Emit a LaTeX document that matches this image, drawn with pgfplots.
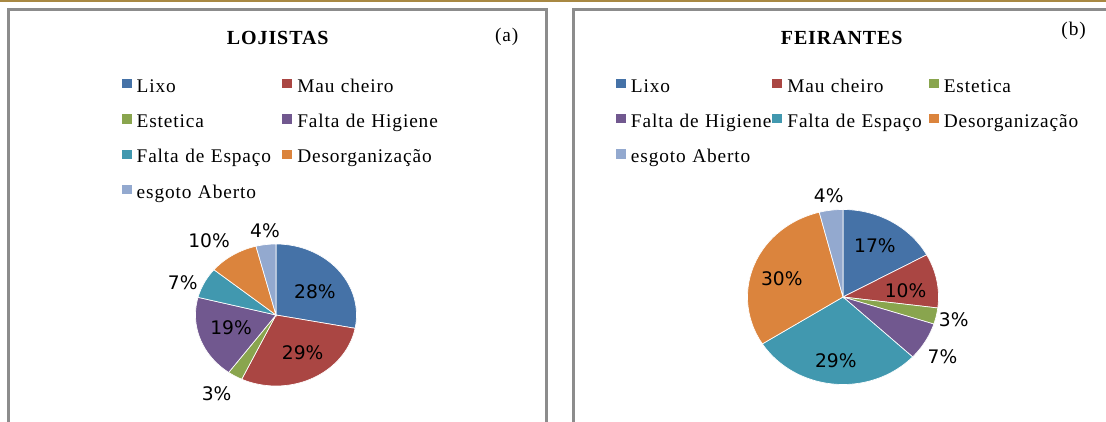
\documentclass[border=0pt]{standalone}
\usepackage{fontspec}
\setmainfont{Liberation Serif}[LetterSpace=4.5]
\newfontfamily\dejavu{DejaVu Sans}
\usepackage{pgfplots}
\pgfplotsset{compat=1.18}
\definecolor{c1}{HTML}{4572A7}
\definecolor{c2}{HTML}{AA4643}
\definecolor{c3}{HTML}{89A54E}
\definecolor{c4}{HTML}{71588F}
\definecolor{c5}{HTML}{4198AF}
\definecolor{c6}{HTML}{DB843D}
\definecolor{c7}{HTML}{93A9CF}
\definecolor{boxgray}{HTML}{8C8C8C}
\definecolor{gold}{HTML}{A88843}
% slice from cumulative percent #1 to #2 (clockwise from 12 o'clock)
\pgfplotsset{
  slice/.style 2 args={domain={90-3.6*(#2)}:{90-3.6*(#1)}, samples=60, draw=white, line width=0.5pt},
  pieaxis/.style 2 args={scale only axis, xmin=-1, xmax=1, ymin=-1, ymax=1, hide axis, clip=false,
    legend columns=#1,
    legend cell align=left,
    legend image code/.code={\fill[##1, draw=none] (0pt,0pt) rectangle (7.5pt,7pt);},
    legend style={draw=none, fill=none, inner sep=0pt, column sep=0pt, row sep=12.5pt, anchor=north west,
      font=\fontsize{14.5}{17}\selectfont,
      nodes={inner xsep=3.75pt, inner ysep=0pt, text width=#2, align=left, text height=10pt, text depth=4pt}}
  }
}
\tikzset{plab/.style={font=\dejavu\fontsize{14}{16}\selectfont, inner sep=0pt}}
\begin{document}
\begin{tikzpicture}
\path[use as bounding box] (0,0) rectangle (829.5pt,315.75pt);
\clip (0,0) rectangle (829.5pt,315.75pt);
% top rule and frames
\fill[gold] (0,314.25pt) rectangle (829.5pt,316pt);
\draw[boxgray, line width=2.25pt] (6pt,-5pt) -- (6pt,308.25pt) -- (409.9pt,308.25pt) -- (409.9pt,-5pt);
\draw[boxgray, line width=2.25pt] (429.75pt,-5pt) -- (429.75pt,308.25pt) -- (840pt,308.25pt);
% titles
\node[font=\fontsize{15}{18}\selectfont\bfseries] at (208.3pt,287.25pt) {LOJISTAS};
\node[font=\fontsize{14.5}{17}\selectfont] at (379.95pt,288pt) {(a)};
\node[font=\fontsize{15}{18}\selectfont\bfseries] at (631.3pt,287.25pt) {FEIRANTES};
\node[font=\fontsize{14.5}{17}\selectfont] at (805.2pt,292.5pt) {(b)};

% (a) LOJISTAS: 28, 29, 3, 19, 7, 10, 4 (%)
\begin{axis}[pieaxis={2}{105.45pt}, at={(207pt,79.5pt)}, anchor=center, width=120.75pt, height=106.5pt,
  legend style={at={(-0.4602,2.164)}}]
\addplot[fill=c1, slice={0}{28}] ({cos(x)},{sin(x)}) -- (axis cs:0,0) -- cycle;
\addlegendentry{\mbox{Lixo}}
\addplot[fill=c2, slice={28}{57}] ({cos(x)},{sin(x)}) -- (axis cs:0,0) -- cycle;
\addlegendentry{\mbox{Mau cheiro}}
\addplot[fill=c3, slice={57}{60}] ({cos(x)},{sin(x)}) -- (axis cs:0,0) -- cycle;
\addlegendentry{\mbox{Estetica}}
\addplot[fill=c4, slice={60}{79}] ({cos(x)},{sin(x)}) -- (axis cs:0,0) -- cycle;
\addlegendentry{\mbox{Falta de Higiene}}
\addplot[fill=c5, slice={79}{86}] ({cos(x)},{sin(x)}) -- (axis cs:0,0) -- cycle;
\addlegendentry{\mbox{Falta de Espaço}}
\addplot[fill=c6, slice={86}{96}] ({cos(x)},{sin(x)}) -- (axis cs:0,0) -- cycle;
\addlegendentry{\mbox{Desorganização}}
\addplot[fill=c7, slice={96}{100}] ({cos(x)},{sin(x)}) -- (axis cs:0,0) -- cycle;
\addlegendentry{\mbox{esgoto Aberto}}
\node[plab] at (axis cs:0.484,0.324) {28\%};
\node[plab] at (axis cs:0.332,-0.531) {29\%};
\node[plab] at (axis cs:-0.737,-1.103) {3\%};
\node[plab] at (axis cs:-0.559,-0.179) {19\%};
\node[plab] at (axis cs:-1.159,0.455) {7\%};
\node[plab] at (axis cs:-0.832,1.046) {10\%};
\node[plab] at (axis cs:-0.137,1.187) {4\%};
\end{axis}

% (b) FEIRANTES: 17, 10, 3, 7, 29, 30, 4 (%)
\begin{axis}[pieaxis={3}{102.3pt}, at={(632.25pt,93pt)}, anchor=center, width=143.25pt, height=131.25pt,
  legend style={at={(-0.690,1.749)}}]
\addplot[fill=c1, slice={0}{17}] ({cos(x)},{sin(x)}) -- (axis cs:0,0) -- cycle;
\addlegendentry{\mbox{Lixo}}
\addplot[fill=c2, slice={17}{27}] ({cos(x)},{sin(x)}) -- (axis cs:0,0) -- cycle;
\addlegendentry{\mbox{Mau cheiro}}
\addplot[fill=c3, slice={27}{30}] ({cos(x)},{sin(x)}) -- (axis cs:0,0) -- cycle;
\addlegendentry{\mbox{Estetica}}
\addplot[fill=c4, slice={30}{37}] ({cos(x)},{sin(x)}) -- (axis cs:0,0) -- cycle;
\addlegendentry{\mbox{Falta de Higiene}}
\addplot[fill=c5, slice={37}{66}] ({cos(x)},{sin(x)}) -- (axis cs:0,0) -- cycle;
\addlegendentry{\mbox{Falta de Espaço}}
\addplot[fill=c6, slice={66}{96}] ({cos(x)},{sin(x)}) -- (axis cs:0,0) -- cycle;
\addlegendentry{\mbox{Desorganização}}
\addplot[fill=c7, slice={96}{100}] ({cos(x)},{sin(x)}) -- (axis cs:0,0) -- cycle;
\addlegendentry{\mbox{esgoto Aberto}}
\node[plab] at (axis cs:-0.149,1.155) {4\%};
\node[plab] at (axis cs:0.334,0.582) {17\%};
\node[plab] at (axis cs:0.655,0.072) {10\%};
\node[plab] at (axis cs:1.160,-0.254) {3\%};
\node[plab] at (axis cs:1.042,-0.681) {7\%};
\node[plab] at (axis cs:-0.076,-0.726) {29\%};
\node[plab] at (axis cs:-0.641,0.213) {30\%};
\end{axis}
\end{tikzpicture}
\end{document}
